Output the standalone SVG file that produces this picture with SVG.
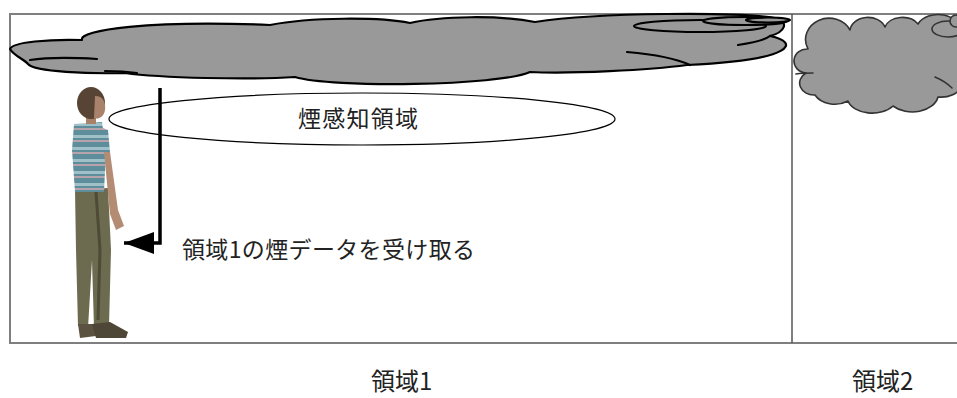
<svg xmlns="http://www.w3.org/2000/svg" width="957" height="398" viewBox="0 0 957 398">
  <style>
    .frame { fill: #ffffff; stroke: #7f7f7f; stroke-width: 2; }
    .divider { stroke: #555555; stroke-width: 1.5; }
    .cloud { fill: #999999; stroke: #000000; stroke-width: 2.2; stroke-linejoin: round; }
    .cloud-thin { fill: #999999; stroke: #333333; stroke-width: 1.6; stroke-linejoin: round; }
    .inner { fill: none; stroke: #000000; stroke-width: 2.2; stroke-linecap: round; }
    .inner-thin { fill: none; stroke: #333333; stroke-width: 1.6; stroke-linecap: round; }
    .zone { fill: #ffffff; stroke: #000000; stroke-width: 1.2; }
    .label { font-family: "Noto Sans CJK JP", "Noto Sans", sans-serif; fill: #222222; }
    .conn { fill: none; stroke: #000000; stroke-width: 3.5; }
  </style>
  <defs>
    <marker id="arrowhead" markerUnits="userSpaceOnUse" markerWidth="32" markerHeight="22" refX="30" refY="11" orient="auto">
      <path d="M0,0 L30,11 L0,22 Z" fill="#000000"/>
    </marker>
    <pattern id="shirtStripes" patternUnits="userSpaceOnUse" width="40" height="12">
      <rect width="40" height="12" fill="#5e8e9c"/>
      <rect y="3" width="40" height="3" fill="#9fc0c8"/>
      <rect y="8" width="40" height="2" fill="#b7a3ab"/>
    </pattern>
  </defs>

  <!-- room outlines -->
  <rect class="frame" x="10" y="14" width="960" height="329"/>
  <line class="divider" x1="792" y1="14" x2="792" y2="343"/>

  <!-- smoke cloud over area 1 -->
  <g id="cloud1">
    <path class="cloud" d="M10,49 C12,42 50,39 82,40 C78,30 150,20 270,25 C310,17 380,17 410,23 C440,16 500,15 535,22 C600,12 740,12 775,18 C790,22 785,32 770,36 C800,42 796,60 687,65 C650,70 570,74 530,72 C500,86 330,88 295,77 C250,80 160,78 125,73 C90,74 35,72 28,64 C24,59 14,56 10,49 Z"/>
    <path class="inner" d="M30,60 C50,57 80,58 97,59"/>
    <path class="inner" d="M105,71 C120,71 130,72 137,73"/>
    <path class="inner" d="M627,52 C650,54 675,58 690,65"/>
    <path class="inner" d="M738,45 C752,43 765,40 770,36"/>
    <ellipse class="cloud" cx="700" cy="26" rx="66" ry="6"/>
    <ellipse class="cloud" cx="745" cy="21" rx="42" ry="4"/>
    <ellipse class="cloud" cx="768" cy="20" rx="22" ry="2.5"/>
  </g>

  <!-- smoke cloud over area 2 -->
  <g id="cloud2">
    <path class="cloud-thin" d="M806,73 A13,12 0 0 1 808,49 A22,20 0 0 1 850,30 A18,14 0 0 1 885,27 A18,13 0 0 1 918,24 A22,16 0 0 1 960,32 L985,40 L985,85 L962,86 A22,16 0 0 1 938,97 A26,18 0 0 1 893,106 A25,16 0 0 1 848,101 A22,16 0 0 1 815,95 A14,12 0 0 1 806,73 Z"/>
    <path class="inner-thin" d="M796,74 C802,73 808,73 813,73"/>
    <path class="inner-thin" d="M935,77 C942,80 948,84 952,88"/>
    <ellipse class="cloud-thin" cx="948" cy="29" rx="16" ry="8"/>
    <circle class="cloud-thin" cx="956" cy="21" r="6"/>
  </g>

  <!-- smoke detection zone -->
  <g id="zone">
    <ellipse class="zone" cx="362" cy="119" rx="253" ry="26"/>
    <text class="label" x="358" y="127" font-size="23" text-anchor="middle" textLength="120" lengthAdjust="spacing">煙感知領域</text>
  </g>

  <!-- person standing in area 1 -->
  <g id="person">
    <path d="M75,190 L108,188 L111,250 L109,326 L94,328 L92,260 L88,328 L78,326 L76,250 Z" fill="#6d6b4f"/>
    <path d="M96,192 L100,250 L98,320" fill="none" stroke="#4d4a36" stroke-width="3"/>
    <path d="M78,324 L94,324 L96,336 L80,338 Z" fill="#5c5242"/>
    <path d="M92,324 L110,322 L128,332 L126,338 L96,338 Z" fill="#4e4636"/>
    <path d="M74,124 L102,122 L106,150 L104,192 L75,192 L72,150 Z" fill="url(#shirtStripes)"/>
    <path d="M98,126 L108,130 L110,152 L102,154 Z" fill="url(#shirtStripes)"/>
    <path d="M104,152 L110,152 L118,210 L124,226 L116,230 L110,214 Z" fill="#b48c74"/>
    <rect x="86" y="114" width="10" height="10" fill="#a98068"/>
    <ellipse cx="91" cy="103" rx="14" ry="16" fill="#584434"/>
    <path d="M95,96 C104,96 106,104 105,110 C104,117 98,120 94,118 Z" fill="#a8826a"/>
  </g>

  <!-- data flow from area 1 sensor to the person -->
  <g id="connectors">
    <path class="conn" d="M160,88 L160,243 L124,243" marker-end="url(#arrowhead)"/>
  </g>

  <!-- labels -->
  <text class="label" x="182" y="258" font-size="23" textLength="293" lengthAdjust="spacing">領域1の煙データを受け取る</text>
  <text class="label" x="371" y="390" font-size="24">領域1</text>
  <text class="label" x="852" y="390" font-size="24">領域2</text>
</svg>
